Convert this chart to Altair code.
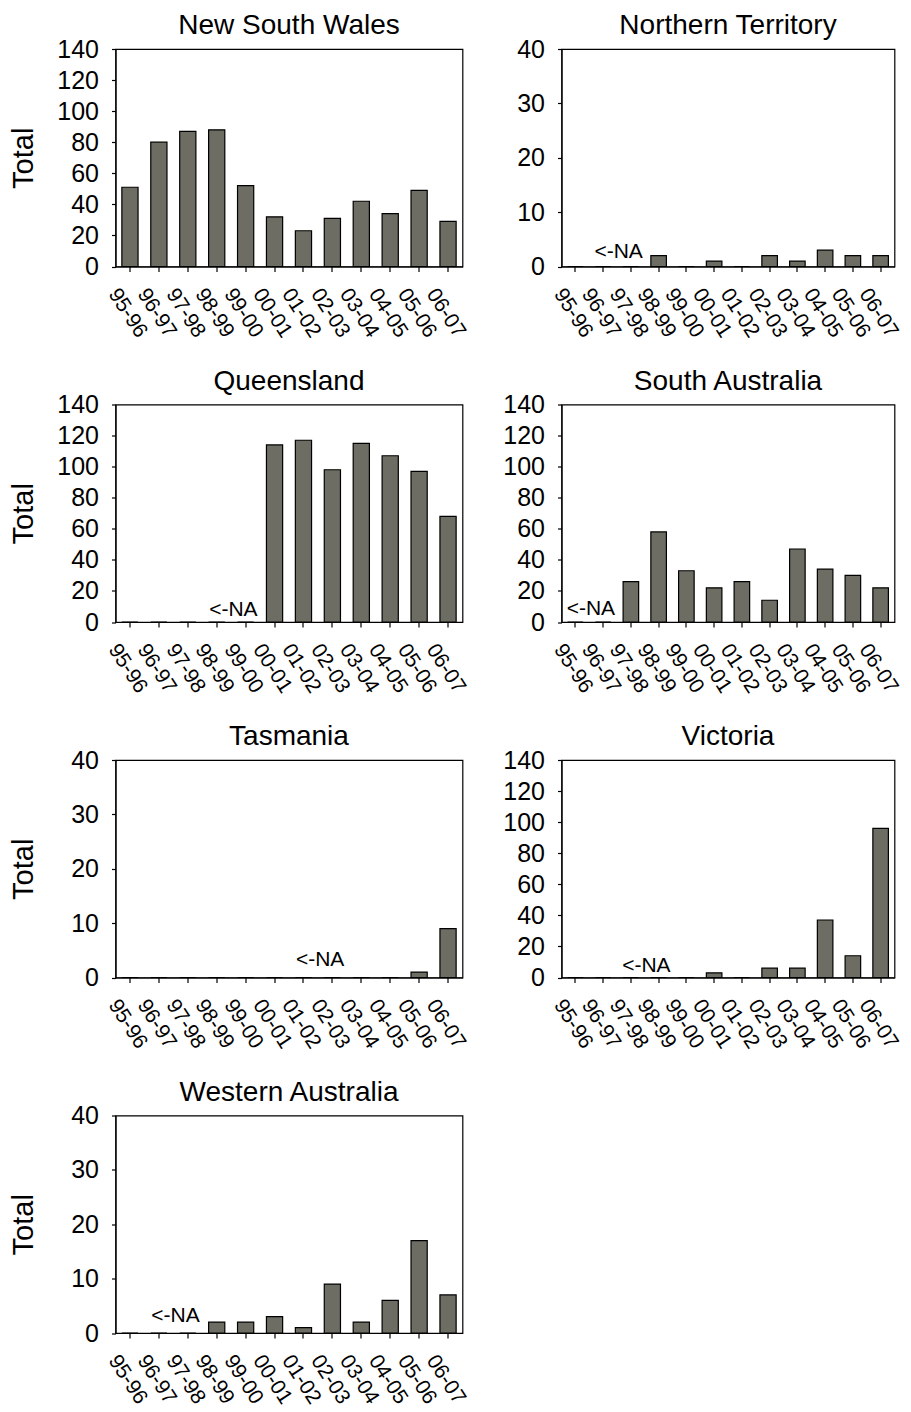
import altair as alt
import pandas as pd

years = ["95-96", "96-97", "97-98", "98-99", "99-00", "00-01",
         "01-02", "02-03", "03-04", "04-05", "05-06", "06-07"]

states = ["New South Wales", "Northern Territory", "Queensland",
          "South Australia", "Tasmania", "Victoria", "Western Australia"]

nsw = [51, 80, 87, 88, 52, 32, 23, 31, 42, 34, 49, 29]
nt = [0, 0, 0, 2, 0, 1, 0, 2, 1, 3, 2, 2]
qld = [0, 0, 0, 0, 0, 114, 117, 98, 115, 107, 97, 68]
sa = [0, 0, 26, 58, 33, 22, 26, 14, 47, 34, 30, 22]
tas = [0, 0, 0, 0, 0, 0, 0, 0, 0, 0, 1, 9]
vic = [0, 0, 0, 0, 0, 3, 0, 6, 6, 37, 14, 96]
wa = [0, 0, 0, 2, 2, 3, 1, 9, 2, 6, 17, 7]
series = [nsw, nt, qld, sa, tas, vic, wa]

# last year with no data (NA) in each state, and height of the "<-NA" note
na_last = [None, "97-98", "99-00", "96-97", "02-03", "98-99", "97-98"]
na_label_y = [None, 1.6, 3.8, 4.5, 2.2, 3.8, 2.1]

y_max = [140, 40, 140, 140, 40, 140, 40]
y_step = [20, 10, 20, 20, 10, 20, 10]

FONT = "Liberation Sans"
BAR = "#6d6d63"


def panel(i):
    left = i % 2 == 0
    df = pd.DataFrame({"year": years, "total": series[i]})
    xscale = alt.Scale(domain=years, paddingInner=0.44, paddingOuter=0.22)
    yscale = alt.Scale(domain=[0, y_max[i]], nice=False)
    xaxis = alt.Axis(title=None, labelAngle=57, labelAlign="left",
                     labelBaseline="alphabetic", labelOffset=-22,
                     labelPadding=22, tickSize=5, labelFontSize=21,
                     labelOverlap=False)
    yaxis_kw = dict(values=list(range(0, y_max[i] + 1, y_step[i])),
                    tickSize=4, labelPadding=13, labelFontSize=25,
                    labelOverlap=False)
    if left:
        yaxis = alt.Axis(title="Total", titleFontSize=29, titlePadding=23,
                         titleFontWeight="normal", minExtent=54, maxExtent=54,
                         **yaxis_kw)
    else:
        yaxis = alt.Axis(title=None, **yaxis_kw)
    xenc = alt.X("year:N", scale=xscale, axis=xaxis)
    yenc = alt.Y("total:Q", scale=yscale, axis=yaxis)
    bars = alt.Chart(df).mark_bar(fill=BAR, stroke="black", strokeWidth=1.2).encode(
        x=xenc, y=yenc,
    )
    layers = [bars]
    if na_last[i] is not None:
        tdf = pd.DataFrame({"year": [na_last[i]], "total": [na_label_y[i]], "label": ["<-NA"]})
        txt = alt.Chart(tdf).mark_text(align="right", baseline="alphabetic", dx=12,
                                       fontSize=21, font=FONT, color="black").encode(
            x=xenc, y=yenc, text="label:N",
        )
        layers.append(txt)
    return alt.layer(*layers).properties(
        width=347 if left else 333,
        height=217.5,
        title=alt.TitleParams(states[i]),
    )


panels = [panel(i) for i in range(len(states))]

chart = alt.concat(*panels, columns=2, spacing={"row": 137.5, "column": 99},
                   bounds="flush").properties(
    padding={"left": 0.5, "top": 3, "right": 0, "bottom": 0}
).configure_view(
    stroke="black", strokeWidth=1.2
).configure_axis(
    domainColor="black", domainWidth=1.2, tickColor="black", tickWidth=1.2,
    labelColor="black", titleColor="black", grid=False,
    labelFont=FONT, titleFont=FONT
).configure_title(
    font=FONT, fontSize=28, fontWeight="normal", anchor="middle",
    baseline="alphabetic", offset=-3, color="black"
)

chart.save("out.html", embed_options={"renderer": "svg", "actions": False})
